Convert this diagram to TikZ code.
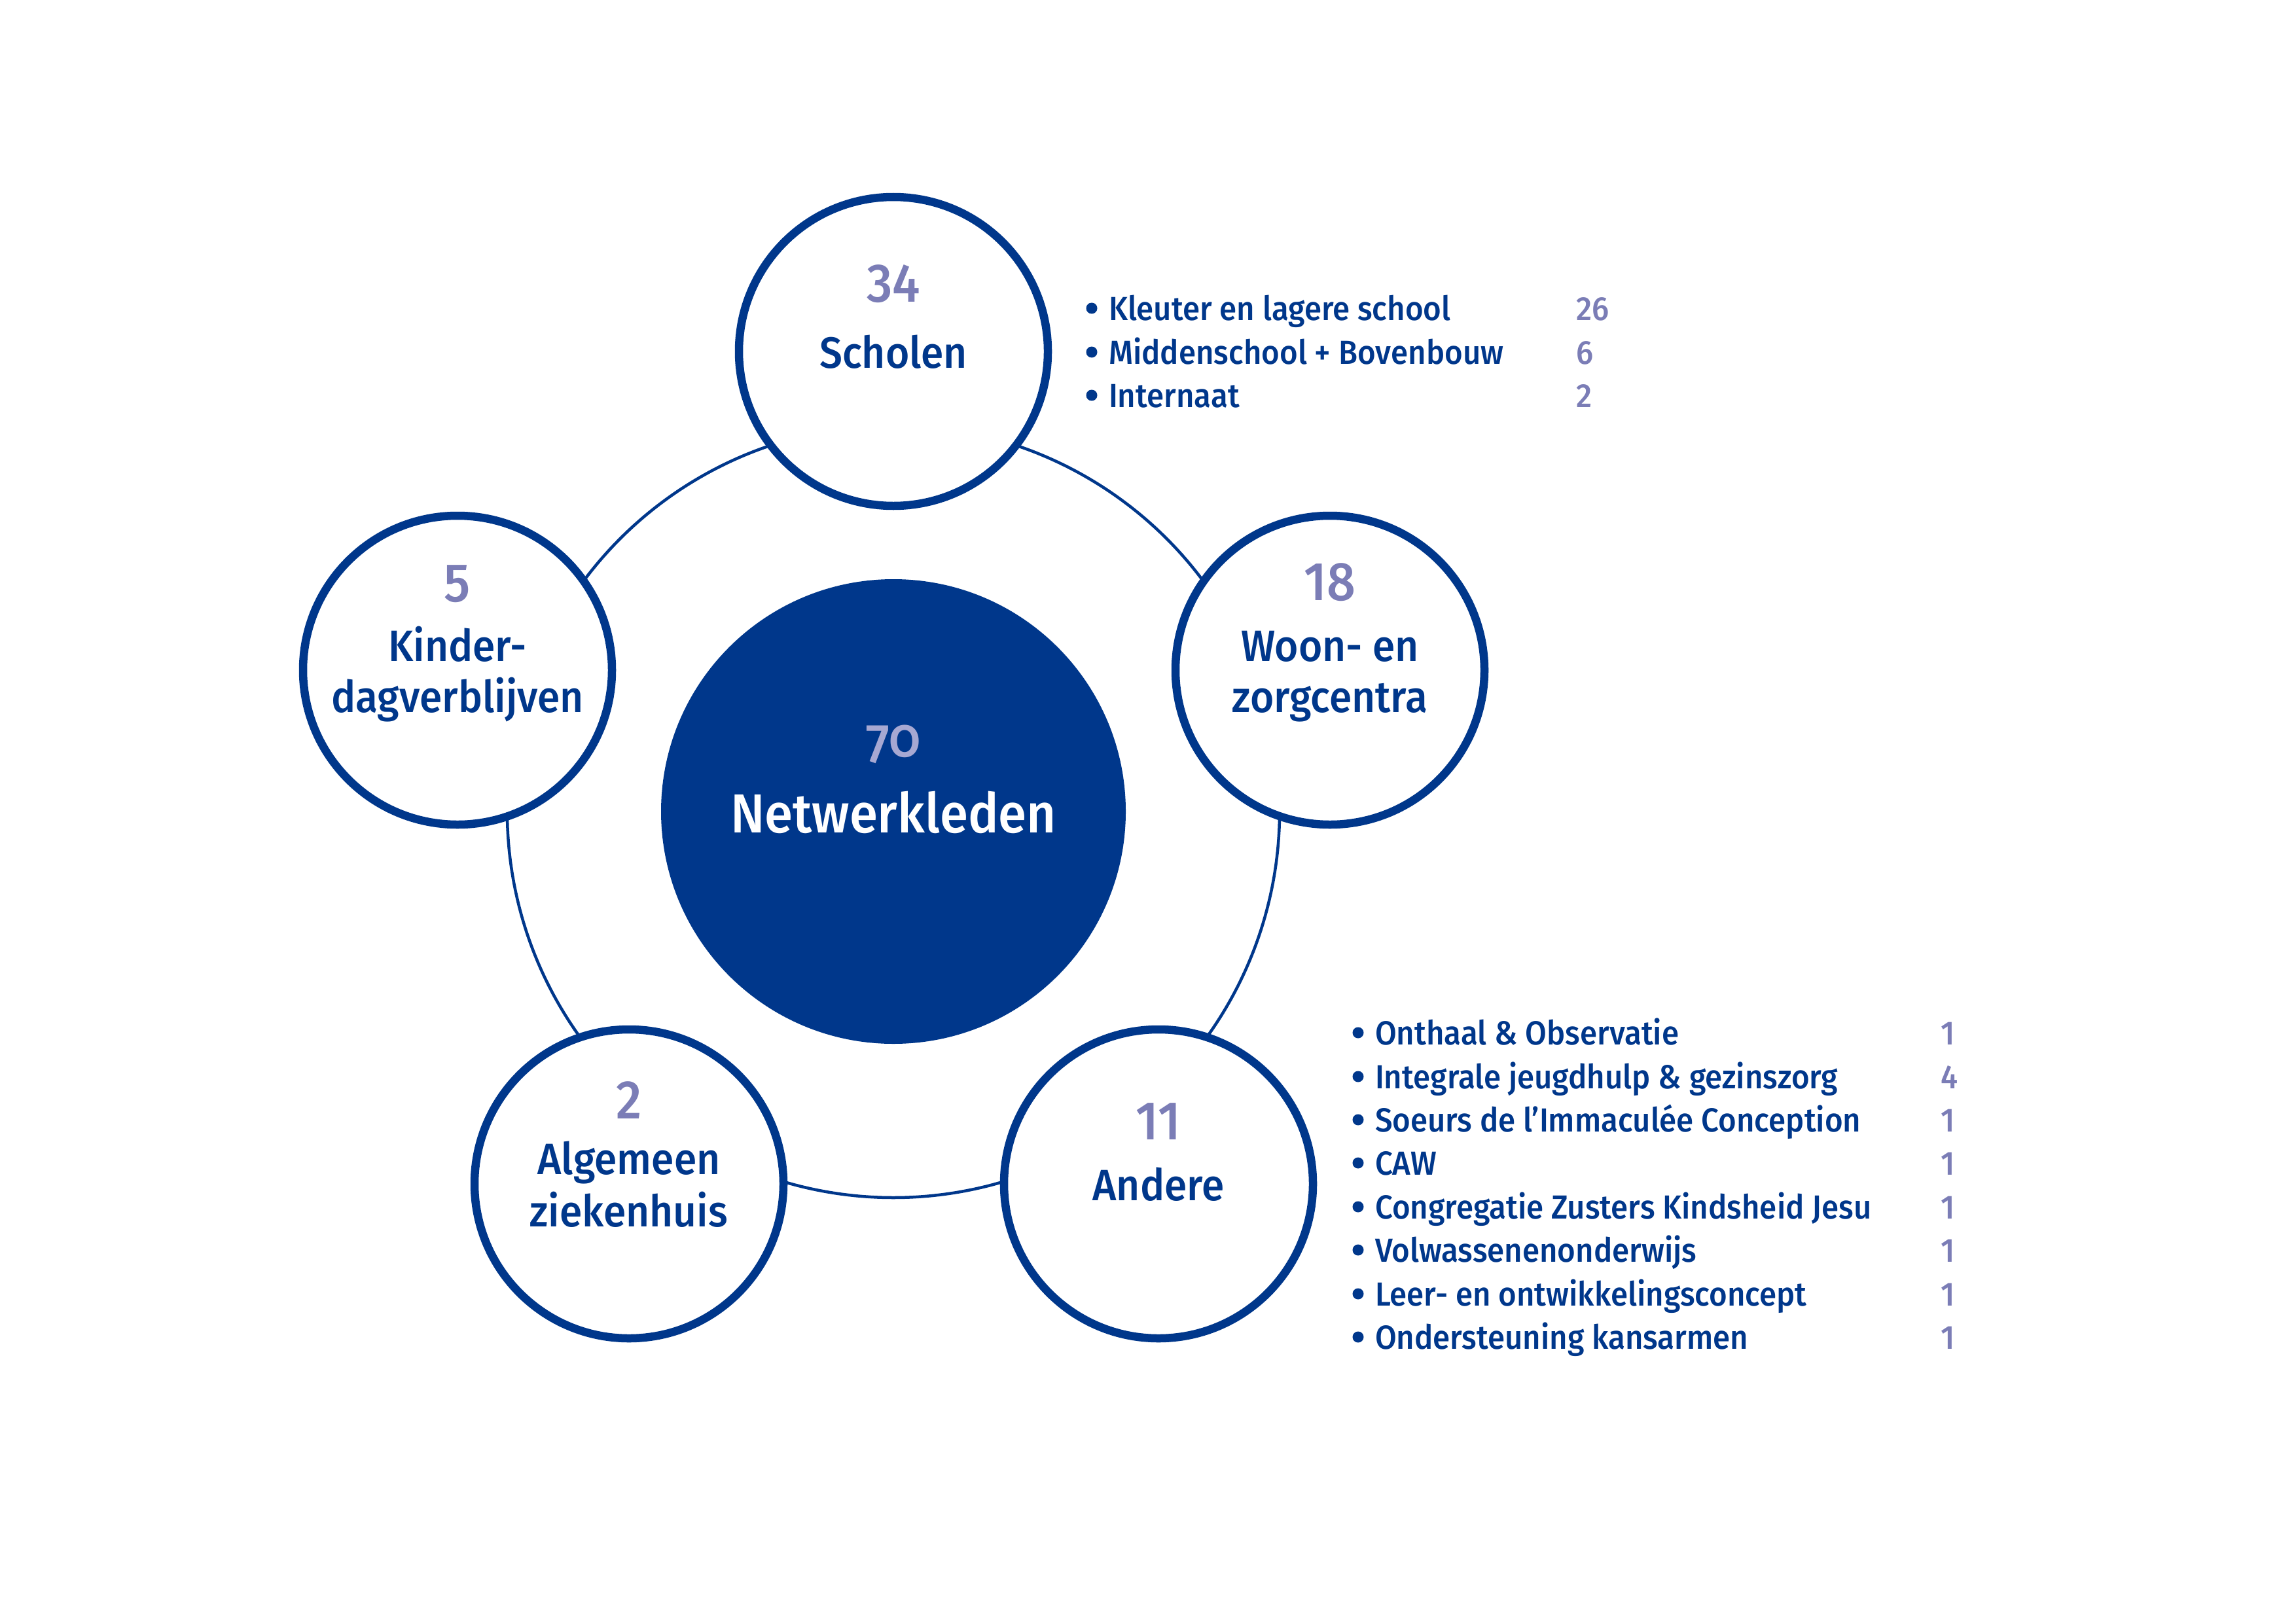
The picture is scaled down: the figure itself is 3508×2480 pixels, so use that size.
\documentclass[tikz,border=0pt]{standalone}
\usepackage{fontspec}
\setmainfont{Fira Sans Medium}[FakeStretch=0.93]
\usetikzlibrary{calc}
\definecolor{dblue}{HTML}{00378B}
\definecolor{lpurp}{HTML}{7B7DB6}
\definecolor{vlpurp}{HTML}{A7A8D2}
\begin{document}
\begin{tikzpicture}[x=1pt,y=-1pt,
  every node/.style={inner sep=0pt, outer sep=0pt},
  sat/.style={circle, draw=dblue, line width=12.5pt, fill=white, minimum size=472pt},
  hub/.style={circle, fill=dblue, minimum size=710pt},
  ringline/.style={draw=dblue, line width=4.5pt},
  numtxt/.style={text=lpurp, font=\fontsize{83}{90}\selectfont, anchor=base},
  labtxt/.style={text=dblue, font=\fontsize{67}{78}\selectfont, anchor=base},
  listtxt/.style={text=dblue, font=\fontsize{51}{60}\selectfont, anchor=base west},
  listnum/.style={text=lpurp, font=\fontsize{51}{60}\selectfont, anchor=base west},
  bul/.style={circle, fill=dblue, minimum size=17pt}
]
\useasboundingbox[fill=white] (0,0) rectangle (3508,2480);

% hub
\node[hub] (hub) at (1365,1240) {};

% ring connecting the satellites
\foreach \a/\b in {270/342, 342/414, 54/126, 126/198, 198/270}{
  \draw[ringline] ($(hub.center)+(\a:590)$) arc[start angle=\a, end angle=\b, radius=590];
}

% satellites
\node[sat] (sch)  at (1365,537)  {};
\node[sat] (kin)  at (699,1024)  {};
\node[sat] (woon) at (2032,1024) {};
\node[sat] (alg)  at (961,1809)  {};
\node[sat] (and)  at (1770,1809) {};

% hub text
\node[anchor=base, text=vlpurp, font=\fontsize{84}{90}\selectfont\addfontfeatures{Numbers=OldStyle}] (hubnum) at (1365,1156) {70};
\node[anchor=base, text=white, font=\fontsize{84}{90}\selectfont] (hublab) at (1365,1272) {Netwerkleden};

% Scholen
\node[numtxt] (schnum) at (1365,461) {34};
\node[labtxt] (schlab) at (1365,562) {Scholen};

% Kinderdagverblijven
\node[numtxt] (kinnum) at (699,919) {5};
\node[labtxt] (kinlaba) at (699,1010) {Kinder-};
\node[labtxt] (kinlabb) at (699,1088) {dagverblijven};

% Woon- en zorgcentra
\node[numtxt] (woonnum) at (2032,917) {18};
\node[labtxt] (woonlaba) at (2032,1010) {Woon- en};
\node[labtxt] (woonlabb) at (2032,1088) {zorgcentra};

% Algemeen ziekenhuis
\node[numtxt] (algnum) at (961,1709) {2};
\node[labtxt] (alglaba) at (961,1794) {Algemeen};
\node[labtxt] (alglabb) at (961,1874) {ziekenhuis};

% Andere
\node[numtxt] (andnum) at (1770,1741) {11};
\node[labtxt] (andlab) at (1770,1834) {Andere};

% Scholen list
\foreach \t/\n/\y in {Kleuter en lagere school/26/489, Middenschool + Bovenbouw/6/556, Internaat/2/622}{
  \node[bul] at (1668,\y-18) {};
  \node[listtxt] at (1694,\y) {\t};
  \node[listnum] at (2408,\y) {\n};
}

% Andere list
\foreach \t/\n/\y in {Onthaal \& Observatie/1/1596, Integrale jeugdhulp \& gezinszorg/4/1663, Soeurs de l’Immaculée Conception/1/1729, CAW/1/1795, Congregatie Zusters Kindsheid Jesu/1/1862, Volwassenenonderwijs/1/1928, Leer- en ontwikkelingsconcept/1/1995, Ondersteuning kansarmen/1/2061}{
  \node[bul] at (2075,\y-18) {};
  \node[listtxt] at (2101,\y) {\t};
  \node[listnum] at (2965,\y) {\n};
}
\end{tikzpicture}
\end{document}
